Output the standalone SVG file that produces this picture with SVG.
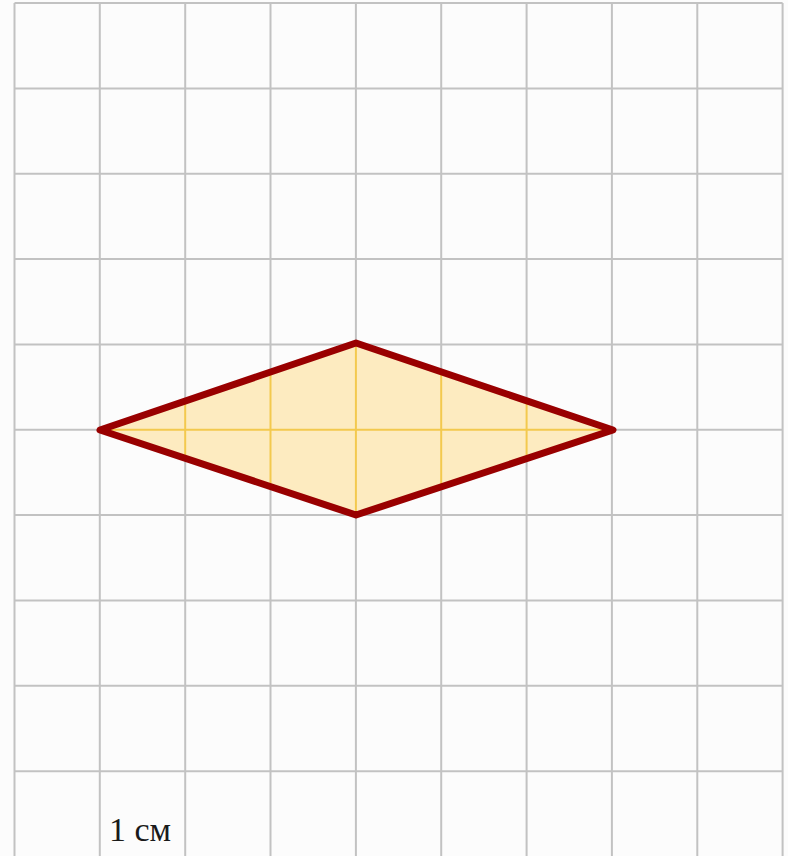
<svg xmlns="http://www.w3.org/2000/svg" width="788" height="856" viewBox="0 0 788 856">
<style>
.g{stroke:#c2c2c2;stroke-width:2;fill:none}
.y{stroke:#f3c94e;stroke-width:2;fill:none}
.t{font-family:"Liberation Serif",serif;font-size:34px;fill:#1a1a1a}
</style>
<defs>
<clipPath id="rc"><polygon points="100,430 356,343 613,430 356,515"/></clipPath>
</defs>
<rect width="788" height="856" fill="#fcfcfc"/>
<g id="grid" class="g">
<path d="M14.5,3V856M99.8,3V856M185.2,3V856M270.5,3V856M355.9,3V856M441.2,3V856M526.6,3V856M611.9,3V856M697.3,3V856M782.6,3V856"/>
<path d="M14.5,3H782.6M14.5,88.4H782.6M14.5,173.7H782.6M14.5,259.1H782.6M14.5,344.4H782.6M14.5,429.8H782.6M14.5,515.1H782.6M14.5,600.5H782.6M14.5,685.8H782.6M14.5,771.2H782.6"/>
</g>
<g id="rhombus">
<polygon points="100,430 356,343 613,430 356,515" fill="#fdebc0"/>
<g clip-path="url(#rc)" class="y">
<path d="M185.2,330V530M270.5,330V530M355.9,330V530M441.2,330V530M526.6,330V530M90,429.8H620"/>
</g>
<polygon points="100,430 356,343 613,430 356,515" fill="none" stroke="#990000" stroke-width="7" stroke-linejoin="round"/>
</g>
<text id="label" class="t" x="109" y="841">1 см</text>
</svg>
